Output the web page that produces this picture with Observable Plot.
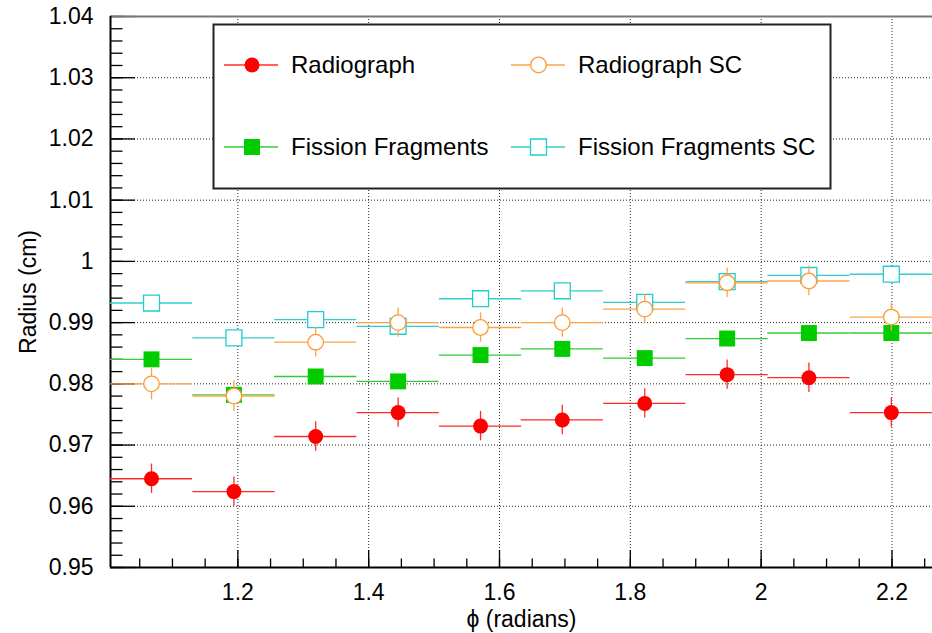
<!DOCTYPE html>
<html>
<head>
<meta charset="utf-8">
<script src="https://cdn.jsdelivr.net/npm/d3@7"></script>
<script src="https://cdn.jsdelivr.net/npm/@observablehq/plot@0.6"></script>
<style>
  html, body { margin: 0; padding: 0; background: #fff; }
  #chart svg { display: block; }
</style>
</head>
<body>
<div id="chart"></div>
<script>
// ---- data ----
const phiCenters = [1.068, 1.194, 1.319, 1.445, 1.571, 1.696, 1.822, 1.948, 2.073, 2.199];
const phiHalfBin = [0.0628, 0.0628, 0.0628, 0.0628, 0.0628, 0.0628, 0.0628, 0.0628, 0.0628, 0.0628];

const radiograph      = [0.9645, 0.9624, 0.9714, 0.9753, 0.9731, 0.9741, 0.9768, 0.9815, 0.9810, 0.9753];
const radiographErr   = [0.0024, 0.0024, 0.0024, 0.0024, 0.0024, 0.0024, 0.0024, 0.0024, 0.0024, 0.0024];
const radiographSC    = [0.9800, 0.9780, 0.9868, 0.9900, 0.9892, 0.9900, 0.9922, 0.9965, 0.9968, 0.9909];
const radiographSCErr = [0.0026, 0.0025, 0.0024, 0.0024, 0.0024, 0.0024, 0.0024, 0.0024, 0.0024, 0.0023];
const fission         = [0.9840, 0.9782, 0.9812, 0.9804, 0.9847, 0.9857, 0.9842, 0.9874, 0.9883, 0.9883];
const fissionErr      = [0.0010, 0.0010, 0.0010, 0.0010, 0.0010, 0.0010, 0.0010, 0.0010, 0.0010, 0.0010];
const fissionSC       = [0.9932, 0.9875, 0.9905, 0.9894, 0.9939, 0.9952, 0.9933, 0.9967, 0.9977, 0.9979];
const fissionSCErr    = [0.0008, 0.0008, 0.0008, 0.0008, 0.0008, 0.0008, 0.0008, 0.0008, 0.0008, 0.0008];

const seriesNames = ["Radiograph", "Radiograph SC", "Fission Fragments", "Fission Fragments SC"];

const xDomain = [1.00531, 2.26195];
const yDomain = [0.95, 1.04];
const xMajor = [1.2, 1.4, 1.6, 1.8, 2.0, 2.2];
const xTickLabels = ["1.2", "1.4", "1.6", "1.8", "2", "2.2"];
const yMajor = [0.95, 0.96, 0.97, 0.98, 0.99, 1.00, 1.01, 1.02, 1.03, 1.04];
const yTickLabels = ["0.95", "0.96", "0.97", "0.98", "0.99", "1", "1.01", "1.02", "1.03", "1.04"];
const xMinor = d3.range(21, 46).map(i => +(i * 0.05).toFixed(3));
const yMinor = d3.range(475, 521).map(i => +(i * 0.002).toFixed(4));

// ---- styling ----
const styles = {
  "Radiograph":           {color: "#ff0000", line: "#ff2a2a", symbol: "circle", fill: "#ff0000", r: 7.5},
  "Radiograph SC":        {color: "#ff9933", line: "#ffa24a", symbol: "circle", fill: "#ffffff", r: 7.8},
  "Fission Fragments":    {color: "#00cc00", line: "#33cc33", symbol: "square", fill: "#00cc00", r: 9.0},
  "Fission Fragments SC": {color: "#22cccc", line: "#33cccc", symbol: "square", fill: "#ffffff", r: 9.0}
};

function table(name, vals, errs) {
  return phiCenters.map((c, i) => ({
    series: name, phi: c, lo: c - phiHalfBin[i], hi: c + phiHalfBin[i],
    v: vals[i], vlo: vals[i] - errs[i], vhi: vals[i] + errs[i]
  }));
}
const rows = {
  "Radiograph": table("Radiograph", radiograph, radiographErr),
  "Radiograph SC": table("Radiograph SC", radiographSC, radiographSCErr),
  "Fission Fragments": table("Fission Fragments", fission, fissionErr),
  "Fission Fragments SC": table("Fission Fragments SC", fissionSC, fissionSCErr)
};

const W = 932, H = 633, mL = 110, mR = 0, mT = 16, mB = 66;
const frameW = W - mL - mR, frameH = H - mT - mB;

function seriesMarks(name) {
  const s = styles[name], d = rows[name];
  return [
    Plot.ruleY(d, {y: "v", x1: "lo", x2: "hi", stroke: s.line, strokeWidth: 1.3}),
    Plot.ruleX(d, {x: "phi", y1: "vlo", y2: "vhi", stroke: s.line, strokeWidth: 1.3}),
    Plot.dot(d, {x: "phi", y: "v", symbol: () => s.symbol, r: s.r, fill: s.fill,
                 stroke: s.color, strokeWidth: s.fill === "#ffffff" ? 1.3 : 0})
  ];
}

const chart = Plot.plot({
  width: W, height: H,
  marginLeft: mL, marginRight: mR, marginTop: mT, marginBottom: mB,
  style: {fontFamily: "'Liberation Sans', Arial, sans-serif", fontSize: "23px", background: "#fff", color: "#000"},
  x: {domain: xDomain},
  y: {domain: yDomain},
  symbol: {type: "identity"},
  marks: [
    Plot.gridX(xMajor, {stroke: "#000", strokeOpacity: 0.85, strokeDasharray: "1,2"}),
    Plot.gridY(yMajor.slice(1, -1), {stroke: "#000", strokeOpacity: 0.85, strokeDasharray: "1,2"}),
    Plot.tickY(yMinor, {y: d => d, insetRight: frameW - 12.5, stroke: "#000", strokeWidth: 1.3}),
    Plot.tickY(yMajor, {y: d => d, insetRight: frameW - 25, stroke: "#000", strokeWidth: 1.3}),
    Plot.tickX(xMinor, {x: d => d, insetTop: frameH - 8.5, stroke: "#000", strokeWidth: 1.3}),
    Plot.tickX(xMajor, {x: d => d, insetTop: frameH - 17, stroke: "#000", strokeWidth: 1.3}),
    Plot.ruleY([1.04], {stroke: "#777", strokeWidth: 2}),
    Plot.ruleX([xDomain[0]], {stroke: "#000", strokeWidth: 2}),
    Plot.ruleY([0.95], {stroke: "#000", strokeWidth: 2}),
    Plot.axisY(yMajor, {tickSize: 0, tickPadding: 17, tickFormat: (d, i) => yTickLabels[i],
      label: "Radius (cm)", labelAnchor: "center", labelArrow: "none", labelOffset: 91}),
    Plot.axisX(xMajor, {tickSize: 0, tickPadding: 16, tickFormat: (d, i) => xTickLabels[i],
      label: "ϕ (radians)", labelAnchor: "center", labelArrow: "none", labelOffset: 59}),
    ...seriesMarks("Radiograph"),
    ...seriesMarks("Fission Fragments"),
    ...seriesMarks("Fission Fragments SC"),
    ...seriesMarks("Radiograph SC")
  ]
});

document.getElementById("chart").appendChild(chart);

// ---- legend box (inside the frame, as in the reference) ----
const svg = d3.select(chart);
const lg = svg.append("g")
  .attr("font-family", "'Liberation Sans', Arial, sans-serif")
  .attr("font-size", 24)
  .attr("text-anchor", "start");
lg.append("rect").attr("x", 213.5).attr("y", 24.5).attr("width", 617).attr("height", 164)
  .attr("fill", "#fff").attr("stroke", "#222").attr("stroke-width", 2);
const cols = [{lx: 224, mx: 252, tx: 291}, {lx: 511, mx: 538.5, tx: 578}];
const rowsY = [65, 147];
seriesNames.forEach((name, i) => {
  const s = styles[name];
  const c = cols[i % 2], y = rowsY[Math.floor(i / 2)];
  lg.append("line").attr("x1", c.lx).attr("x2", c.lx + 54).attr("y1", y).attr("y2", y)
    .attr("stroke", s.line).attr("stroke-width", 1.3);
  const sym = d3.symbol(s.symbol === "circle" ? d3.symbolCircle : d3.symbolSquare, Math.PI * s.r * s.r);
  lg.append("path").attr("d", sym()).attr("transform", `translate(${c.mx},${y})`)
    .attr("fill", s.fill).attr("stroke", s.color).attr("stroke-width", s.fill === "#ffffff" ? 1.3 : 0);
  lg.append("text").attr("x", c.tx).attr("y", y + 7.5).attr("fill", "#000")
    .attr("text-anchor", "start").text(name);
});
</script>
</body>
</html>
